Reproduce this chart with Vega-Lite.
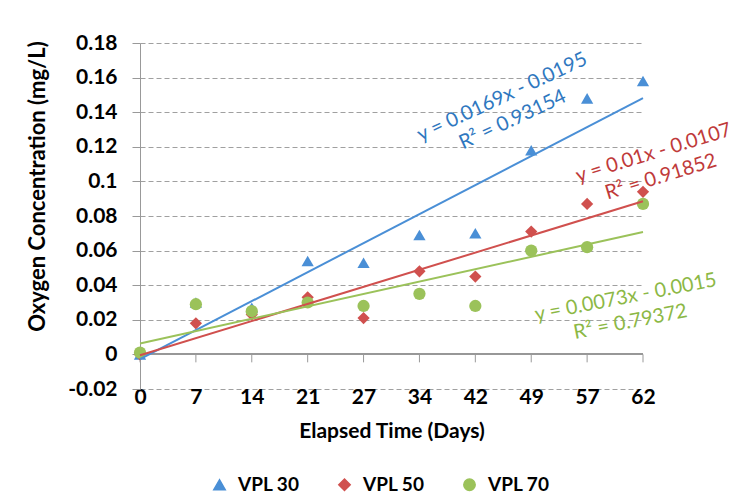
{
  "$schema": "https://vega.github.io/schema/vega-lite/v6.json",
  "autosize": "none",
  "width": 503,
  "height": 346,
  "padding": {"left": 140, "top": 43, "right": 96, "bottom": 105},
  "background": "white",
  "config": {
    "view": {"stroke": null},
    "font": "Lato",
    "axis": {"labelFont": "Lato", "titleFont": "Lato", "labelColor": "black", "titleColor": "black"},
    "axisY": {"tickCount": 10, "labelOverlap": false, "labelFontSize": 21, "labelFontWeight": "bold", "grid": true, "gridColor": "#a0a0a0", "gridDash": [5, 3], "gridWidth": 1}
  },
  "datasets": {
    "obs": [
      {"series": "VPL 30", "idx": 1, "day": 0, "value": 0.0},
      {"series": "VPL 30", "idx": 2, "day": 7, "value": 0.030},
      {"series": "VPL 30", "idx": 3, "day": 14, "value": 0.027},
      {"series": "VPL 30", "idx": 4, "day": 21, "value": 0.054},
      {"series": "VPL 30", "idx": 5, "day": 27, "value": 0.053},
      {"series": "VPL 30", "idx": 6, "day": 34, "value": 0.069},
      {"series": "VPL 30", "idx": 7, "day": 42, "value": 0.070},
      {"series": "VPL 30", "idx": 8, "day": 49, "value": 0.118},
      {"series": "VPL 30", "idx": 9, "day": 57, "value": 0.148},
      {"series": "VPL 30", "idx": 10, "day": 62, "value": 0.158},
      {"series": "VPL 50", "idx": 1, "day": 0, "value": 0.0},
      {"series": "VPL 50", "idx": 2, "day": 7, "value": 0.018},
      {"series": "VPL 50", "idx": 3, "day": 14, "value": 0.023},
      {"series": "VPL 50", "idx": 4, "day": 21, "value": 0.033},
      {"series": "VPL 50", "idx": 5, "day": 27, "value": 0.021},
      {"series": "VPL 50", "idx": 6, "day": 34, "value": 0.048},
      {"series": "VPL 50", "idx": 7, "day": 42, "value": 0.045},
      {"series": "VPL 50", "idx": 8, "day": 49, "value": 0.071},
      {"series": "VPL 50", "idx": 9, "day": 57, "value": 0.087},
      {"series": "VPL 50", "idx": 10, "day": 62, "value": 0.094},
      {"series": "VPL 70", "idx": 1, "day": 0, "value": 0.001},
      {"series": "VPL 70", "idx": 2, "day": 7, "value": 0.029},
      {"series": "VPL 70", "idx": 3, "day": 14, "value": 0.025},
      {"series": "VPL 70", "idx": 4, "day": 21, "value": 0.030},
      {"series": "VPL 70", "idx": 5, "day": 27, "value": 0.028},
      {"series": "VPL 70", "idx": 6, "day": 34, "value": 0.035},
      {"series": "VPL 70", "idx": 7, "day": 42, "value": 0.028},
      {"series": "VPL 70", "idx": 8, "day": 49, "value": 0.060},
      {"series": "VPL 70", "idx": 9, "day": 57, "value": 0.062},
      {"series": "VPL 70", "idx": 10, "day": 62, "value": 0.087}
    ],
    "eq": [
      {"series": "VPL 30", "idx": 7.48, "value": 0.1487, "text": "y = 0.0169x - 0.0195\nR² = 0.93154"},
      {"series": "VPL 50", "idx": 10.19, "value": 0.1164, "text": "y = 0.01x - 0.0107\nR² = 0.91852"},
      {"series": "VPL 70", "idx": 9.69, "value": 0.0329, "text": "y = 0.0073x - 0.0015\nR² = 0.79372"}
    ]
  },
  "resolve": {"scale": {"x": "independent"}, "axis": {"x": "independent"}},
  "layer": [
    {
      "layer": [
        {
          "data": {"name": "obs"},
          "mark": {"type": "rule", "color": "#999999", "strokeWidth": 1},
          "encoding": {"y": {"datum": 0, "type": "quantitative"}}
        },
        {
          "data": {"name": "obs"},
          "transform": [{"filter": "datum.series == 'VPL 30'"}],
          "mark": {"type": "rule", "color": "#999999", "strokeWidth": 1},
          "encoding": {
            "x": {"field": "idx", "type": "quantitative", "scale": {"domain": [1, 10], "nice": false, "zero": false}, "axis": null},
            "y": {"datum": 0, "type": "quantitative"},
            "y2": {"datum": -0.0046}
          }
        }
      ]
    },
    {
      "data": {"name": "obs"},
      "mark": {"type": "point", "filled": true, "opacity": 1},
      "encoding": {
        "x": {
          "field": "day", "type": "ordinal", "sort": null,
          "scale": {"type": "point", "padding": 0},
          "axis": {
            "orient": "bottom", "labelAngle": 0, "domain": false, "ticks": false, "grid": false,
            "labelFontSize": 21, "labelFontWeight": "bold", "labelPadding": -3,
            "title": "Elapsed Time (Days)", "titleFontSize": 21, "titleFontWeight": "bold", "titlePadding": 13
          }
        },
        "y": {
          "field": "value", "type": "quantitative",
          "scale": {"domain": [-0.02, 0.18], "nice": false, "zero": false},
          "axis": {
            "tickCount": 10, "grid": true,
            "labelExpr": "'' + round(datum.value*100)/100", "labelOverlap": false,
            "labelFontSize": 21, "labelFontWeight": "bold", "labelPadding": 15,
            "domainColor": "#999999", "tickColor": "#999999", "tickSize": 8,
            "gridColor": "#a0a0a0", "gridDash": [5, 3],
            "title": "Oxygen Concentration (mg/L)", "titleFontSize": 22, "titleFontWeight": "bold", "titlePadding": 18, "titleY": 143
          }
        },
        "color": {
          "field": "series", "type": "nominal",
          "scale": {"domain": ["VPL 30", "VPL 50", "VPL 70"], "range": ["#4A8FD6", "#D0504E", "#9BC25A"]},
          "legend": {
            "orient": "none", "legendX": 70, "legendY": 432, "direction": "horizontal", "title": null,
            "labelFont": "Lato", "labelFontSize": 19, "labelFontWeight": "bold", "labelColor": "black",
            "symbolSize": 130, "columnPadding": 35, "labelOffset": 9
          }
        },
        "shape": {
          "field": "series", "type": "nominal",
          "scale": {"domain": ["VPL 30", "VPL 50", "VPL 70"], "range": ["triangle-up", "diamond", "circle"]},
          "legend": {
            "orient": "none", "legendX": 70, "legendY": 432, "direction": "horizontal", "title": null,
            "labelFont": "Lato", "labelFontSize": 19, "labelFontWeight": "bold", "labelColor": "black",
            "symbolSize": 130, "columnPadding": 35, "labelOffset": 9
          }
        },
        "size": {"value": 150}
      }
    },
    {
      "layer": [
        {
          "data": {"name": "obs"},
          "transform": [{"regression": "value", "on": "idx", "groupby": ["series"], "extent": [1, 10]}],
          "mark": {"type": "line", "strokeWidth": 2},
          "encoding": {
            "x": {
              "field": "idx", "type": "quantitative",
              "scale": {"domain": [1, 10], "nice": false, "zero": false},
              "axis": null
            },
            "y": {"field": "value", "type": "quantitative"},
            "color": {"field": "series", "type": "nominal", "legend": null}
          }
        },
        {
          "data": {"name": "eq"},
          "transform": [{"filter": "datum.series == 'VPL 30'"}],
          "mark": {"type": "text", "font": "Lato", "fontSize": 20, "lineBreak": "\n", "lineHeight": 25, "angle": -25, "align": "center", "baseline": "middle", "color": "#2F78C0"},
          "encoding": {
            "x": {"field": "idx", "type": "quantitative"},
            "y": {"field": "value", "type": "quantitative"},
            "text": {"field": "text"}
          }
        },
        {
          "data": {"name": "eq"},
          "transform": [{"filter": "datum.series == 'VPL 50'"}],
          "mark": {"type": "text", "font": "Lato", "fontSize": 20, "lineBreak": "\n", "lineHeight": 25, "angle": -17, "align": "center", "baseline": "middle", "color": "#C03A3A"},
          "encoding": {
            "x": {"field": "idx", "type": "quantitative"},
            "y": {"field": "value", "type": "quantitative"},
            "text": {"field": "text"}
          }
        },
        {
          "data": {"name": "eq"},
          "transform": [{"filter": "datum.series == 'VPL 70'"}],
          "mark": {"type": "text", "font": "Lato", "fontSize": 20, "lineBreak": "\n", "lineHeight": 25, "angle": -11, "align": "center", "baseline": "middle", "color": "#8CB845"},
          "encoding": {
            "x": {"field": "idx", "type": "quantitative"},
            "y": {"field": "value", "type": "quantitative"},
            "text": {"field": "text"}
          }
        }
      ]
    }
  ]
}
